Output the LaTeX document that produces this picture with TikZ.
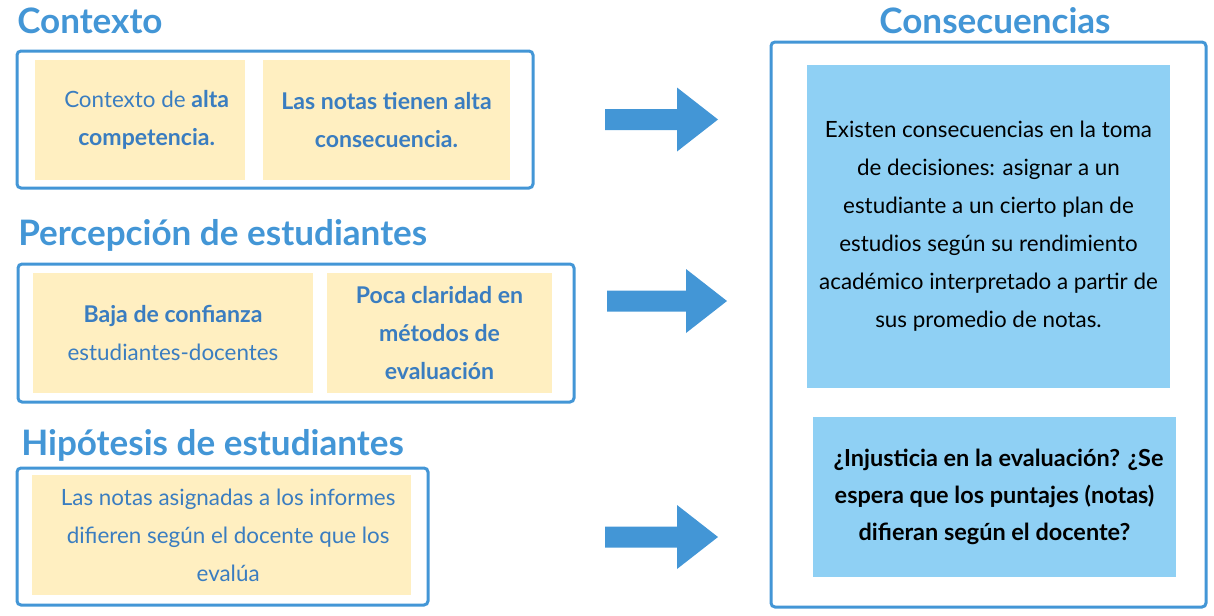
\documentclass[tikz,border=0pt]{standalone}
\usepackage{fontspec}
\setmainfont{Lato}
\definecolor{hblue}{HTML}{4396D6}
\definecolor{tblue}{HTML}{3A7DC0}
\definecolor{ylw}{HTML}{FFEFC1}
\definecolor{lblue}{HTML}{8FD0F4}
\newcommand\hb[1]{{\fontsize{17.3}{28.5}\selectfont\bfseries #1}}
\newcommand\sh{\hspace*{10pt}}
\begin{document}
\begin{tikzpicture}[x=0.75pt,y=-0.75pt,
  heading/.style={font=\fontsize{26.3}{30}\selectfont\bfseries, text=hblue, inner sep=0pt},
  frame/.style={draw=hblue, line width=2.25pt, rounded corners=3pt, fill=white, inner sep=0pt},
  ybox/.style={fill=ylw, inner sep=0pt, align=center, text=tblue,
    font=\fontsize{16.8}{28.5}\selectfont},
  bbox/.style={fill=lblue, inner sep=0pt, align=center, text=black,
    font=\fontsize{16.8}{28.5}\selectfont},
  bigarrow/.style={fill=hblue}
]
\useasboundingbox (0,0) rectangle (1214,615);

% headings
\node[heading, anchor=base west] (h1) at (17,33) {Contexto};
\node[heading, anchor=base west] (h2) at (18,245) {Percepción de estudiantes};
\node[heading, anchor=base west] (h3) at (21,455) {Hipótesis de estudiantes};
\node[heading, anchor=base] (h4) at (995,33) {Consecuencias};

% frames
\node[frame, minimum width=387pt, minimum height=102.75pt] (f1) at (275,119.5) {};
\node[frame, minimum width=417pt, minimum height=103.5pt] (f2) at (296,333) {};
\node[frame, minimum width=308.25pt, minimum height=102.75pt] (f3) at (222.5,536.5) {};
\node[frame, minimum width=326.25pt, minimum height=423.75pt] (f4) at (988.5,324.5) {};

% yellow boxes
\node[ybox, minimum width=157.5pt, minimum height=90pt] (y1) at (140,120)
  {\sh Contexto de \hb{alta}\\ \sh\hb{competencia.}};
\node[ybox, minimum width=185.25pt, minimum height=90pt] (y2) at (386.5,120)
  {\hb{Las notas tienen alta}\\ \hb{consecuencia.}};
\node[ybox, minimum width=210pt, minimum height=90pt] (y3) at (173,333)
  {\hb{Baja de confianza}\\ estudiantes-docentes};
\node[ybox, minimum width=168.75pt, minimum height=90pt] (y4) at (439.5,333)
  {\hb{Poca claridad en}\\ \hb{métodos de}\\ \hb{evaluación}};
\node[ybox, minimum width=284.25pt, minimum height=90pt] (y5) at (221.5,535)
  {\sh Las notas asignadas a los informes\\ \sh difieren según el docente que los\\ \sh evalúa};

% blue boxes
\node[bbox, minimum width=272.25pt, minimum height=242.25pt] (b1) at (988.5,226.5)
  {Existen consecuencias en la toma\\ de decisiones: asignar a un\\ estudiante a un cierto plan de\\ estudios según su rendimiento\\ académico interpretado a partir de\\ sus promedio de notas.};
\node[bbox, minimum width=272.25pt, minimum height=120pt, font=\fontsize{17.6}{27.5}\selectfont\bfseries] (b2) at (994.5,497)
  {\hspace*{6pt}¿Injusticia en la evaluación? ¿Se\\ espera que los puntajes (notas)\\ difieran según el docente?};

% block arrows
\coordinate (a1) at (605,119.5);
\coordinate (a2) at (607,301);
\coordinate (a3) at (605,537);
\fill[bigarrow] (a1) ++(0,-10.5) -- ++(72,0) -- ++(0,-21.5) -- ++(41,32) -- ++(-41,32) -- ++(0,-21.5) -- ++(-72,0) -- cycle;
\fill[bigarrow] (a2) ++(0,-10.5) -- ++(79,0) -- ++(0,-21.5) -- ++(41,32) -- ++(-41,32) -- ++(0,-21.5) -- ++(-79,0) -- cycle;
\fill[bigarrow] (a3) ++(0,-10.5) -- ++(72,0) -- ++(0,-21.5) -- ++(41,32) -- ++(-41,32) -- ++(0,-21.5) -- ++(-72,0) -- cycle;
\end{tikzpicture}
\end{document}
